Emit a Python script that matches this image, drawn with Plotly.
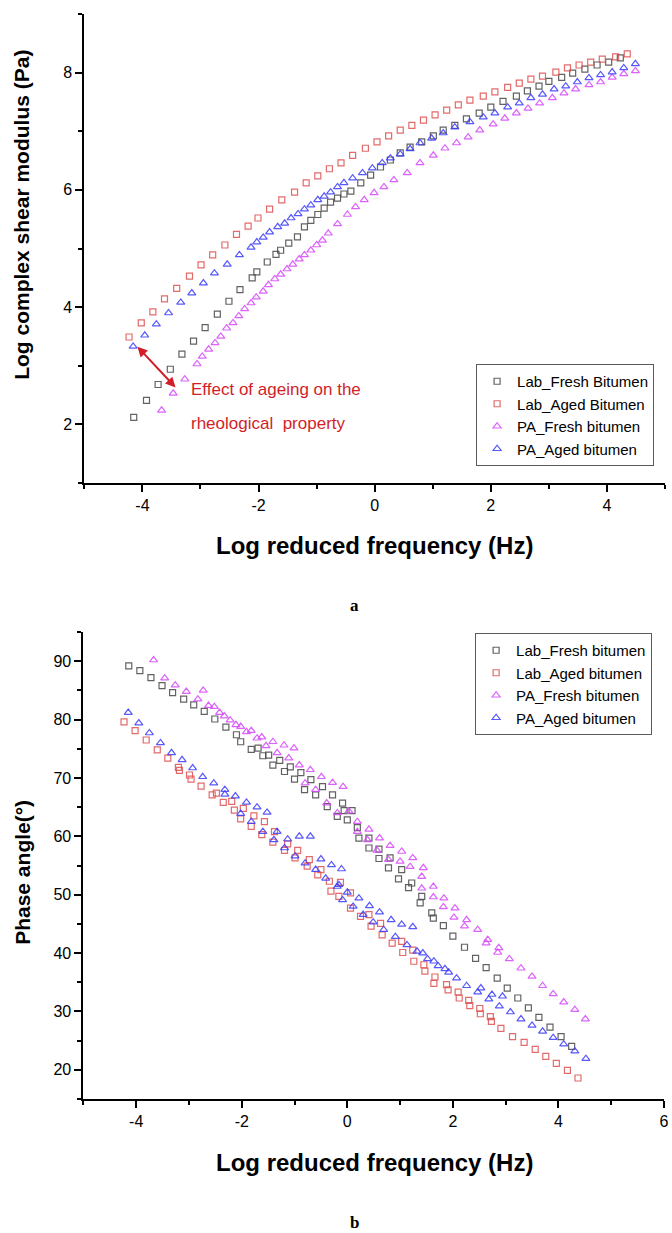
import plotly.graph_objects as go

# ---- panel a: log complex shear modulus vs log reduced frequency ----
a_lab_fresh_x = [-4.15, -3.93, -3.73, -3.52, -3.32, -3.12, -2.92, -2.71, -2.51, -2.32, -2.11, -2.03, -1.85, -1.70,
                 -1.62, -1.48, -1.33, -1.21, -1.10, -0.98, -0.87, -0.76, -0.64, -0.53, -0.41, -0.24, -0.07, 0.10,
                 0.27, 0.44, 0.61, 0.81, 1.01, 1.18, 1.38, 1.58, 1.80, 2.00, 2.21, 2.44, 2.63, 2.83, 3.00, 3.22,
                 3.41, 3.62, 3.83, 4.03, 4.23]
a_lab_fresh_y = [2.12, 2.41, 2.68, 2.94, 3.20, 3.42, 3.65, 3.88, 4.10, 4.30, 4.50, 4.60, 4.77, 4.90,
                 4.97, 5.09, 5.20, 5.37, 5.48, 5.58, 5.69, 5.79, 5.86, 5.93, 5.98, 6.12, 6.25, 6.39,
                 6.51, 6.63, 6.73, 6.82, 6.92, 7.02, 7.10, 7.21, 7.31, 7.41, 7.51, 7.60, 7.69, 7.77, 7.85, 7.92,
                 7.99, 8.06, 8.13, 8.18, 8.25]

a_lab_aged_x = [-4.23, -4.02, -3.82, -3.62, -3.41, -3.19, -2.99, -2.79, -2.58, -2.38, -2.18, -2.01, -1.81, -1.60,
                -1.38, -1.18, -0.98, -0.78, -0.58, -0.38, -0.16, 0.04, 0.24, 0.44, 0.64, 0.84, 1.04, 1.24,
                1.44, 1.64, 1.87, 2.07, 2.29, 2.49, 2.69, 2.89, 3.12, 3.32, 3.52, 3.72, 3.92, 4.15, 4.35]
a_lab_aged_y = [3.49, 3.73, 3.92, 4.14, 4.32, 4.53, 4.72, 4.89, 5.06, 5.24, 5.38, 5.52, 5.67, 5.83,
                5.96, 6.12, 6.24, 6.36, 6.46, 6.59, 6.71, 6.82, 6.92, 7.02, 7.10, 7.19, 7.28, 7.36,
                7.45, 7.53, 7.60, 7.67, 7.75, 7.82, 7.89, 7.94, 8.01, 8.08, 8.13, 8.18, 8.23, 8.27, 8.32]

a_pa_fresh_x = [-3.67, -3.47, -3.27, -3.06, -2.97, -2.86, -2.75, -2.65, -2.55, -2.44, -2.34, -2.24, -2.13, -2.04,
                -1.92, -1.83, -1.72, -1.62, -1.51, -1.41, -1.30, -1.21, -1.10, -1.00, -0.90, -0.80, -0.64, -0.47,
                -0.33, -0.18, -0.01, 0.16, 0.33, 0.56, 0.78, 1.01, 1.21, 1.41, 1.61, 1.81, 2.04, 2.24, 2.44,
                2.64, 2.84, 3.06, 3.26, 3.46, 3.69, 3.89, 4.09, 4.29, 4.49]
a_pa_fresh_y = [2.24, 2.53, 2.77, 3.03, 3.16, 3.28, 3.39, 3.50, 3.64, 3.73, 3.85, 3.97, 4.07, 4.17,
                4.27, 4.38, 4.48, 4.56, 4.65, 4.73, 4.82, 4.89, 4.97, 5.06, 5.14, 5.26, 5.42, 5.58,
                5.71, 5.83, 5.95, 6.05, 6.17, 6.29, 6.46, 6.59, 6.71, 6.80, 6.90, 7.02, 7.12, 7.22, 7.31,
                7.39, 7.48, 7.57, 7.65, 7.72, 7.79, 7.84, 7.92, 7.98, 8.03]

a_pa_aged_x = [-4.16, -3.96, -3.76, -3.55, -3.34, -3.15, -2.95, -2.76, -2.54, -2.33, -2.13, -2.03, -1.92, -1.81,
               -1.67, -1.55, -1.44, -1.32, -1.21, -1.10, -0.98, -0.87, -0.76, -0.64, -0.53, -0.38, -0.21, -0.04,
               0.13, 0.27, 0.44, 0.61, 0.78, 0.98, 1.18, 1.38, 1.64, 1.87, 2.07, 2.29, 2.49, 2.69, 2.89,
               3.09, 3.29, 3.49, 3.69, 3.89, 4.09, 4.29, 4.49]
a_pa_aged_y = [3.33, 3.52, 3.71, 3.90, 4.08, 4.24, 4.41, 4.58, 4.73, 4.89, 5.02, 5.11, 5.19, 5.28,
               5.37, 5.43, 5.52, 5.59, 5.67, 5.74, 5.83, 5.89, 5.96, 6.05, 6.12, 6.20, 6.29, 6.37,
               6.46, 6.54, 6.61, 6.70, 6.80, 6.88, 6.97, 7.07, 7.16, 7.24, 7.31, 7.41, 7.48, 7.57, 7.63,
               7.72, 7.77, 7.84, 7.91, 7.96, 8.01, 8.08, 8.15]

# ---- panel b: phase angle vs log reduced frequency ----
b_lab_fresh_x = [-4.14, -3.93, -3.72, -3.51, -3.31, -3.10, -2.91, -2.71, -2.51, -2.30, -2.10, -2.02, -1.82, -1.69,
                 -1.60, -1.49, -1.41, -1.28, -1.19, -1.08, -1.00, -0.88, -0.81, -0.69, -0.60, -0.47, -0.38, -0.28,
                 -0.19, -0.09, -0.06, 0.00, 0.09, 0.19, 0.22, 0.41, 0.41, 0.60, 0.60, 0.78, 0.81, 0.97, 1.03,
                 1.16, 1.22, 1.38, 1.41, 1.60, 1.63, 1.82, 2.00, 2.22, 2.43, 2.63, 2.84, 3.03, 3.23, 3.43,
                 3.63, 3.84, 4.05, 4.25]
b_lab_fresh_y = [89.2, 88.4, 87.2, 85.8, 84.6, 83.5, 82.5, 81.4, 80.1, 78.7, 77.4, 76.2, 74.9, 75.1,
                 73.8, 73.9, 72.2, 73.0, 71.1, 71.9, 69.8, 70.9, 68.0, 69.7, 67.1, 68.5, 65.1, 67.1,
                 63.4, 65.7, 64.4, 62.8, 64.4, 61.5, 59.7, 59.7, 58.0, 57.8, 56.2, 54.6, 56.3, 52.7, 54.3,
                 51.2, 52.0, 48.6, 49.7, 46.9, 46.0, 44.7, 42.9, 41.0, 39.1, 37.5, 35.7, 34.0, 32.3, 30.6,
                 29.0, 27.3, 25.7, 24.0]

b_lab_aged_x = [-4.23, -4.02, -3.81, -3.60, -3.40, -3.20, -3.18, -2.99, -2.96, -2.77, -2.56, -2.48, -2.35, -2.19,
                -2.14, -2.02, -1.97, -1.82, -1.77, -1.62, -1.57, -1.41, -1.38, -1.19, -1.13, -0.99, -0.94, -0.76,
                -0.72, -0.56, -0.50, -0.34, -0.31, -0.16, -0.13, 0.06, 0.06, 0.25, 0.41, 0.45, 0.63, 0.66,
                0.85, 1.03, 1.05, 1.24, 1.26, 1.45, 1.47, 1.64, 1.66, 1.88, 1.91, 2.10, 2.12, 2.30, 2.32,
                2.51, 2.52, 2.71, 2.73, 2.91, 3.13, 3.35, 3.56, 3.76, 3.96, 4.17, 4.37]
b_lab_aged_y = [79.6, 78.1, 76.5, 74.8, 73.4, 71.8, 71.3, 70.5, 69.8, 68.6, 67.1, 67.4, 65.8, 66.0,
                64.5, 63.0, 64.8, 61.7, 63.5, 60.3, 62.5, 59.0, 60.8, 57.6, 58.7, 56.3, 57.6, 54.9,
                56.0, 53.4, 54.3, 52.3, 50.6, 49.7, 52.1, 50.3, 47.7, 46.3, 46.6, 44.6, 45.1, 43.1,
                41.7, 42.0, 40.1, 40.5, 38.6, 38.0, 36.9, 34.8, 35.9, 34.6, 33.7, 33.3, 32.3, 31.9, 31.0,
                30.5, 29.6, 29.1, 28.3, 27.1, 25.7, 24.7, 23.5, 22.3, 21.1, 19.9, 18.6]

b_pa_fresh_x = [-3.67, -3.46, -3.26, -3.05, -2.83, -2.73, -2.63, -2.52, -2.42, -2.33, -2.22, -2.11, -2.02, -1.91,
                -1.82, -1.71, -1.62, -1.54, -1.41, -1.33, -1.20, -1.11, -1.01, -0.91, -0.80, -0.70, -0.60, -0.49,
                -0.39, -0.28, -0.19, -0.08, 0.03, 0.19, 0.19, 0.38, 0.41, 0.56, 0.61, 0.78, 0.81, 1.00,
                1.03, 1.19, 1.24, 1.41, 1.44, 1.41, 1.63, 1.63, 1.82, 1.83, 2.02, 2.04, 2.22, 2.26, 2.47,
                2.63, 2.66, 2.85, 2.87, 3.07, 3.29, 3.50, 3.70, 3.90, 4.10, 4.31, 4.51]
b_pa_fresh_y = [90.2, 87.1, 85.9, 84.8, 83.5, 85.0, 82.4, 82.2, 81.2, 80.6, 79.9, 79.1, 78.8, 77.9,
                78.1, 76.8, 77.0, 75.5, 76.2, 74.3, 75.6, 73.4, 75.1, 72.2, 69.1, 71.4, 68.0, 70.2,
                65.7, 69.2, 64.0, 68.5, 64.3, 62.5, 60.8, 59.4, 61.2, 57.6, 59.7, 56.0, 58.4, 55.7,
                57.4, 54.8, 56.3, 53.1, 54.6, 51.1, 51.4, 49.6, 47.9, 49.4, 46.1, 47.7, 44.6, 45.7, 44.0,
                41.7, 42.3, 40.1, 40.9, 39.0, 37.4, 36.0, 34.4, 33.0, 31.6, 30.3, 28.7]

b_pa_aged_x = [-4.15, -3.95, -3.75, -3.54, -3.33, -3.13, -2.93, -2.74, -2.53, -2.32, -2.32, -2.12, -2.02, -1.91,
               -1.82, -1.71, -1.60, -1.52, -1.39, -1.33, -1.19, -1.13, -0.99, -0.91, -0.80, -0.70, -0.60, -0.50,
               -0.41, -0.30, -0.19, -0.16, -0.11, -0.09, 0.00, 0.11, 0.22, 0.30, 0.42, 0.49, 0.61, 0.69,
               0.83, 0.91, 1.03, 1.13, 1.24, 1.32, 1.43, 1.52, 1.64, 1.72, 1.85, 1.92, 2.07, 2.26, 2.47,
               2.53, 2.68, 2.74, 2.88, 2.94, 3.09, 3.29, 3.50, 3.70, 3.90, 4.10, 4.31, 4.52]
b_pa_aged_y = [81.2, 79.4, 77.7, 76.0, 74.3, 73.1, 71.7, 70.2, 69.1, 68.0, 67.2, 66.9, 63.9, 65.8,
               62.5, 65.0, 60.8, 64.1, 59.4, 60.8, 58.0, 59.5, 56.6, 60.0, 55.4, 60.0, 54.3, 56.1,
               52.8, 55.1, 51.4, 51.7, 54.4, 49.1, 50.4, 48.0, 49.4, 46.6, 48.1, 45.3, 47.0, 44.0,
               45.7, 42.8, 44.9, 41.4, 44.5, 40.3, 40.0, 39.0, 38.6, 37.8, 37.3, 36.7, 35.7, 34.4, 33.3,
               34.0, 32.1, 32.9, 30.9, 32.6, 29.9, 28.7, 27.6, 26.6, 25.5, 24.4, 23.2, 21.9]

a_names = ["Lab_Fresh Bitumen", "Lab_Aged Bitumen", "PA_Fresh bitumen", "PA_Aged bitumen"]
b_names = ["Lab_Fresh bitumen", "Lab_Aged bitumen", "PA_Fresh bitumen", "PA_Aged bitumen"]

a_xticks = [-4, -2, 0, 2, 4]
a_yticks = [2, 4, 6, 8]
b_xticks = [-4, -2, 0, 2, 4, 6]
b_yticks = [20, 30, 40, 50, 60, 70, 80, 90]

W, H = 672, 1233
colors = ["rgb(70,70,70)", "rgb(222,80,80)", "rgb(214,70,250)", "rgb(60,60,250)"]
symbols = ["square-open", "square-open", "triangle-up-open", "triangle-up-open"]
sizes = [6, 6, 7, 7]
font = "Liberation Sans, Arial, sans-serif"


def px_x(p):
    return p / W


def px_y(p):
    return 1 - p / H


fig = go.Figure()

a_data = [(a_lab_fresh_x, a_lab_fresh_y), (a_lab_aged_x, a_lab_aged_y),
          (a_pa_fresh_x, a_pa_fresh_y), (a_pa_aged_x, a_pa_aged_y)]
b_data = [(b_lab_fresh_x, b_lab_fresh_y), (b_lab_aged_x, b_lab_aged_y),
          (b_pa_fresh_x, b_pa_fresh_y), (b_pa_aged_x, b_pa_aged_y)]

for i, (xs, ys) in enumerate(a_data):
    fig.add_trace(go.Scatter(x=xs, y=ys, mode="markers", name=a_names[i],
                             xaxis="x", yaxis="y", legend="legend",
                             marker=dict(symbol=symbols[i], size=sizes[i], color=colors[i],
                                         line=dict(width=1.2, color=colors[i]), opacity=0.85)))

for i, (xs, ys) in enumerate(b_data):
    fig.add_trace(go.Scatter(x=xs, y=ys, mode="markers", name=b_names[i],
                             xaxis="x2", yaxis="y2", legend="legend2",
                             marker=dict(symbol=symbols[i], size=sizes[i], color=colors[i],
                                         line=dict(width=1.2, color=colors[i]), opacity=0.85)))

axis_common = dict(showline=True, linecolor="black", linewidth=2, ticks="outside", ticklen=7,
                   tickwidth=2, tickcolor="black", showgrid=False, zeroline=False,
                   ticklabeloverflow="allow",
                   tickfont=dict(family=font, size=16, color="black"),
                   minor=dict(ticks="outside", ticklen=4, tickwidth=2, tickcolor="black"))

legend_common = dict(xanchor="right", yanchor="top", bgcolor="white", bordercolor="rgb(90,90,90)",
                     borderwidth=1, font=dict(family=font, size=15, color="black"), itemsizing="trace")

fig.update_layout(
    width=W, height=H,
    margin=dict(l=0, r=0, t=0, b=0),
    paper_bgcolor="white", plot_bgcolor="white",
    xaxis=dict(axis_common, domain=[px_x(85), px_x(670)], range=[-5, 5], anchor="y",
               tickvals=a_xticks, ticktext=[str(v) for v in a_xticks],
               minor=dict(axis_common["minor"], dtick=1, tick0=-5)),
    yaxis=dict(axis_common, domain=[px_y(483), px_y(14)], range=[1, 9], anchor="x",
               tickvals=a_yticks, ticktext=[str(v) for v in a_yticks],
               minor=dict(axis_common["minor"], dtick=1, tick0=1)),
    xaxis2=dict(axis_common, domain=[px_x(84), px_x(669)], range=[-5, 6], anchor="y2",
                tickvals=b_xticks, ticktext=[str(v) for v in b_xticks],
                minor=dict(axis_common["minor"], dtick=1, tick0=-5)),
    yaxis2=dict(axis_common, domain=[px_y(1099), px_y(632)], range=[15, 95], anchor="x2",
                tickvals=b_yticks, ticktext=[str(v) for v in b_yticks],
                minor=dict(axis_common["minor"], dtick=5, tick0=15)),
    legend=dict(legend_common, x=px_x(659), y=px_y(364)),
    legend2=dict(legend_common, x=px_x(657), y=px_y(633)),
)

xtitle_font = dict(family=font, size=24, color="black")
ytitle_font = dict(family=font, size=21, color="black")
serif = dict(family="Liberation Serif, Times New Roman, serif", size=17, color="black")
red = "rgb(210,30,40)"
annotations = [
    dict(text="<b>Log complex shear modulus (Pa)</b>", x=px_x(22), y=px_y(215), textangle=-90, font=ytitle_font),
    dict(text="<b>Log reduced frequency (Hz)</b>", x=px_x(377), y=px_y(545), font=xtitle_font),
    dict(text="<b>Phase angle(°)</b>", x=px_x(22), y=px_y(872), textangle=-90, font=ytitle_font),
    dict(text="<b>Log reduced frequency (Hz)</b>", x=px_x(377), y=px_y(1162), font=xtitle_font),
    dict(text="<b>a</b>", x=px_x(357), y=px_y(605), font=serif),
    dict(text="<b>b</b>", x=px_x(357), y=px_y(1222), font=serif),
]
for ann in annotations:
    ann.update(xref="paper", yref="paper", showarrow=False, xanchor="center", yanchor="middle")
    fig.add_annotation(**ann)

# effect of ageing arrow + label
fig.add_annotation(x=-3.43, y=2.63, ax=-4.11, ay=3.35, xref="x", yref="y", axref="x", ayref="y",
                   text="", showarrow=True, arrowside="end+start", arrowhead=2, startarrowhead=2,
                   arrowwidth=2, arrowsize=1, startarrowsize=1, arrowcolor=red)
fig.add_annotation(x=-3.2, y=2.6, xref="x", yref="y", text="Effect of ageing on the", showarrow=False,
                   xanchor="left", yanchor="middle", font=dict(family=font, size=17, color=red))
fig.add_annotation(x=-3.2, y=2.02, xref="x", yref="y", text="rheological  property", showarrow=False,
                   xanchor="left", yanchor="middle", font=dict(family=font, size=17, color=red))

# page has a default 8px body margin; drop it so the figure sits at the window origin
fig.write_html("out.html", config={"displayModeBar": False},
               post_script="document.body.style.margin='0px';")
